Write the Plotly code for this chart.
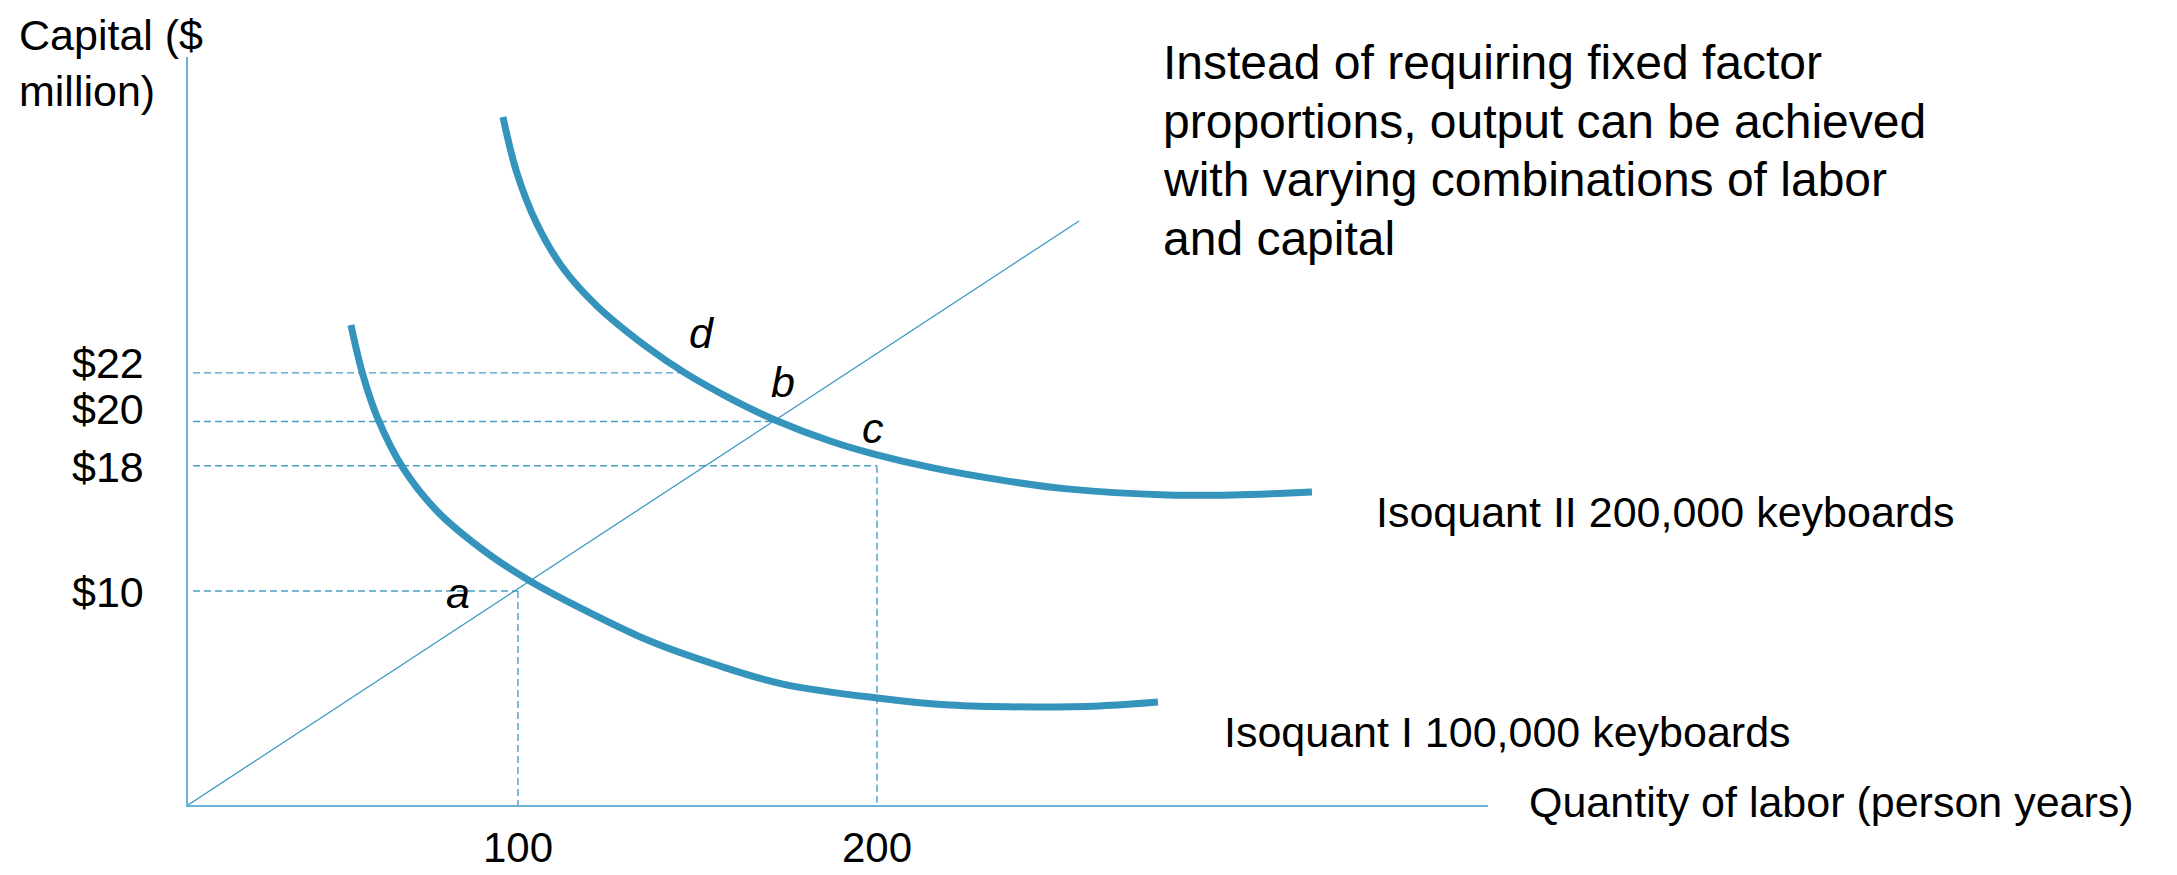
import plotly.graph_objects as go

# ---------------- data (schematic diagram units) ----------------
# Isoquant I : 100,000 keyboards
labor_I = [53.48, 56.83, 61.00, 67.97, 77.44, 91.37, 103.34, 113.65, 136.77, 155.43,
           173.82, 200.0, 220.34, 243.46, 262.12, 278.27]
capital_I = [22.43, 20.09, 18.04, 15.75, 13.74, 11.78, 10.47, 9.53, 7.66, 6.54,
             5.65, 5.00, 4.67, 4.58, 4.63, 4.81]

# Isoquant II : 200,000 keyboards
labor_II = [95.82, 99.72, 105.29, 112.54, 122.01, 135.94, 146.52, 159.89, 171.59, 187.75,
            200.0, 215.60, 234.26, 252.93, 280.78, 299.17, 321.17]
capital_II = [32.15, 29.53, 27.15, 25.09, 23.32, 21.40, 20.19, 18.93, 17.99, 16.96,
              16.36, 15.75, 15.19, 14.77, 14.49, 14.49, 14.63]

# ray through the origin (constant capital/labor ratio)
ray_labor = [8.1, 256.3]
ray_capital = [0.0, 27.29]

# capital levels (labels) and where their guide lines end
capital_labels = ["$10", "$18", "$20", "$22"]
capital_levels = [10.0, 15.85, 17.92, 20.19]
level_labor_end = [100.0, 200.0, 170.5, 146.5]

# labor ticks and the guide drops
labor_ticks = [100, 200]
labor_tick_labels = ["100", "200"]
drop_capital = [10.0, 15.85]

# point labels
point_names = ["a", "b", "c", "d"]
point_labor = [83.3, 173.8, 198.9, 151.3]
point_capital = [9.91, 19.77, 17.62, 22.06]

note_lines = [
    "Instead of requiring fixed factor",
    "proportions, output can be achieved",
    "with varying combinations of labor",
    "and capital",
]

# ---------------- styles ----------------
FONT = "Liberation Sans, Arial, sans-serif"
CURVE = "#3594BC"
AXIS = "#6CB2D4"
THIN = "#3E99C4"
DASH = "#4B9DC6"
X_MIN, X_MAX = 8.1, 370.2
Y_MIN, Y_MAX = 0.0, 34.95
label_yshift = [-1, -1, 12, 10]   # small vertical offsets of the $ labels (px)

fig = go.Figure()

# dashed horizontal guides
for lvl, xend in zip(capital_levels, level_labor_end):
    fig.add_trace(go.Scatter(x=[X_MIN + 1.4, xend], y=[lvl, lvl], mode="lines",
                             line=dict(color=DASH, width=1.4, dash="7px,4px"),
                             hoverinfo="skip", showlegend=False))
# dashed vertical guides
for lx, cy in zip(labor_ticks, drop_capital):
    fig.add_trace(go.Scatter(x=[lx, lx], y=[cy, Y_MIN], mode="lines",
                             line=dict(color=DASH, width=1.4, dash="7px,4px"),
                             hoverinfo="skip", showlegend=False))

# ray
fig.add_trace(go.Scatter(x=ray_labor, y=ray_capital, mode="lines",
                         line=dict(color=THIN, width=1.3),
                         hoverinfo="skip", showlegend=False))

# isoquants
fig.add_trace(go.Scatter(x=labor_I, y=capital_I, mode="lines",
                         line=dict(color=CURVE, width=7, shape="spline", smoothing=1.0),
                         name="Isoquant I", showlegend=False))
fig.add_trace(go.Scatter(x=labor_II, y=capital_II, mode="lines",
                         line=dict(color=CURVE, width=7, shape="spline", smoothing=1.0),
                         name="Isoquant II", showlegend=False))

annotations = []
# capital labels on the vertical axis
for lab, lvl, ys in zip(capital_labels, capital_levels, label_yshift):
    annotations.append(dict(x=0, y=lvl, xref="paper", yref="y", xanchor="right",
                            yanchor="middle", xshift=-42, yshift=ys, text=lab,
                            showarrow=False, font=dict(family=FONT, size=43, color="black")))

# point letters
for n, px, py in zip(point_names, point_labor, point_capital):
    annotations.append(dict(x=px, y=py, xref="x", yref="y", text=f"<i>{n}</i>",
                            showarrow=False, font=dict(family=FONT, size=43, color="black")))

# isoquant labels
annotations.append(dict(x=338.4, y=13.69, xref="x", yref="y", xanchor="left",
                        text="Isoquant II 200,000 keyboards", showarrow=False,
                        font=dict(family=FONT, size=43, color="black")))
annotations.append(dict(x=296.1, y=3.41, xref="x", yref="y", xanchor="left",
                        text="Isoquant I 100,000 keyboards", showarrow=False,
                        font=dict(family=FONT, size=43, color="black")))

# axis titles
annotations.append(dict(x=1.030, y=0.004, xref="paper", yref="paper", xanchor="left",
                        yanchor="middle", text="Quantity of labor (person years)",
                        showarrow=False, font=dict(family=FONT, size=43, color="black")))
annotations.append(dict(x=-0.1315, y=0.992, xref="paper", yref="paper", xanchor="left",
                        yanchor="middle", align="left", text="Capital ($<br>million)",
                        showarrow=False, font=dict(family=FONT, size=43, color="black")))

# explanatory note
note_y = [0.9933, 0.9144, 0.8356, 0.7567]
for line, ny in zip(note_lines, note_y):
    annotations.append(dict(x=0.7485, y=ny, xref="paper", yref="paper", xanchor="left",
                            yanchor="middle", text=line, showarrow=False,
                            font=dict(family=FONT, size=48, color="black")))

fig.update_layout(
    width=2177, height=875,
    margin=dict(l=188, r=689, t=57, b=70, autoexpand=False),
    paper_bgcolor="white", plot_bgcolor="white",
    annotations=annotations,
    xaxis=dict(range=[X_MIN, X_MAX], showgrid=False, zeroline=False, automargin=False,
               showline=True, linecolor=AXIS, linewidth=2,
               tickmode="array", tickvals=labor_ticks, ticktext=labor_tick_labels,
               ticks="", ticklabelstandoff=5,
               tickfont=dict(family=FONT, size=42, color="black")),
    yaxis=dict(range=[Y_MIN, Y_MAX], showgrid=False, zeroline=False, automargin=False,
               showline=True, linecolor=AXIS, linewidth=2,
               showticklabels=False, ticks=""),
)

fig.write_html("out.html", config={"displayModeBar": False},
               post_script="document.body.style.margin='0px';document.body.style.overflow='hidden';")
